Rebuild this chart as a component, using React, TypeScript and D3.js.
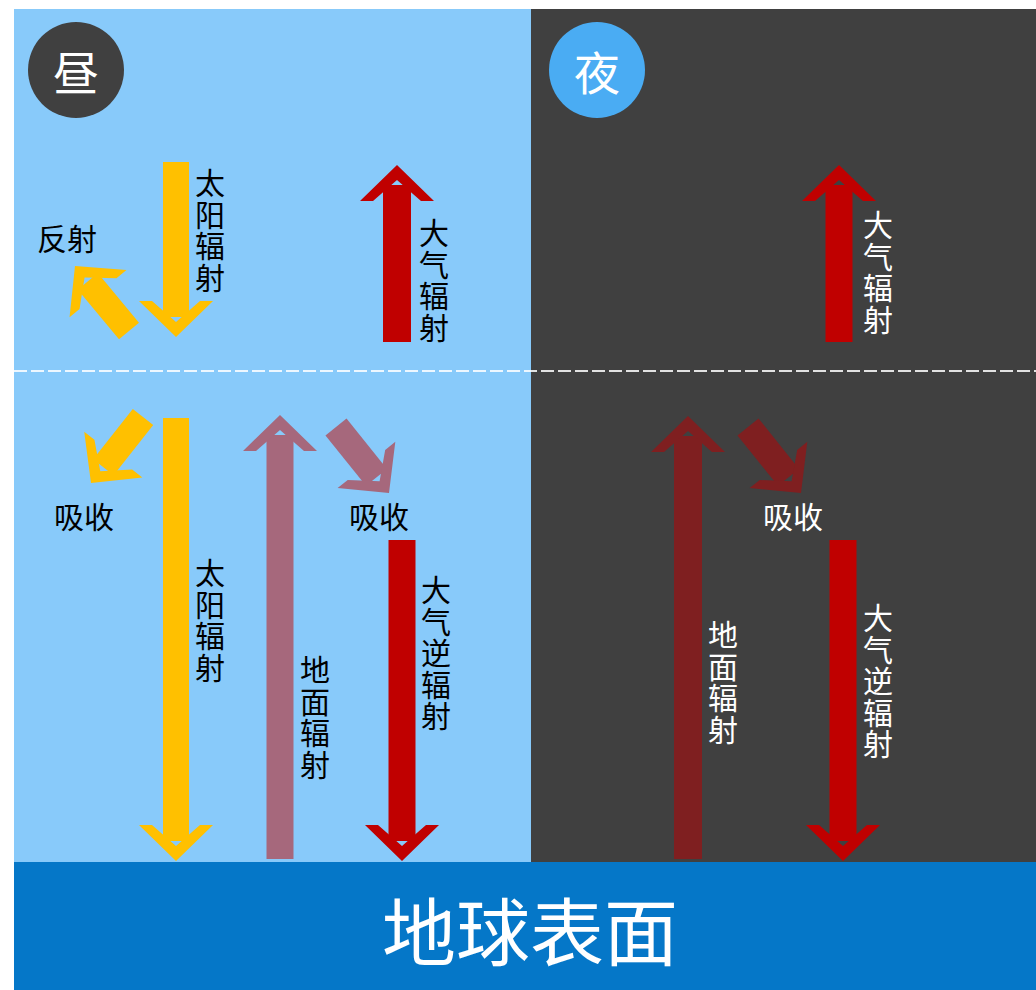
import * as d3 from 'd3';

const W = 1036;
const H = 990;

// colours
const SKY = '#88CAFA';
const NIGHT = '#404040';
const EARTH = '#0577C8';
const SUN = '#FFC000';
const ATMO = '#C00000';
const GROUND_DAY = '#A6687C';
const GROUND_NIGHT = '#7F1F20';

// panel words
const panelTitles = ['昼', '夜'];
const earthTitle = '地球表面';

type Pt = [number, number];
type ArrowSpec = { tail: Pt; tip: Pt; color: string; w?: number };

// arrows: tail -> tip
const dayArrows: ArrowSpec[] = [
  { tail: [176, 162], tip: [176, 337], color: SUN, w: 26 },
  { tail: [129, 331], tip: [75, 266], color: SUN, w: 26 },
  { tail: [143, 417], tip: [91, 483], color: SUN, w: 26 },
  { tail: [176, 418], tip: [176, 861], color: SUN, w: 26 },
  { tail: [397, 342], tip: [397, 165], color: ATMO, w: 28 },
  { tail: [280, 859], tip: [280, 415], color: GROUND_DAY, w: 27 },
  { tail: [336, 427], tip: [389, 493], color: GROUND_DAY, w: 27 },
  { tail: [402, 540], tip: [402, 861], color: ATMO, w: 27 },
];

const nightArrows: ArrowSpec[] = [
  { tail: [839, 342], tip: [839, 165], color: ATMO, w: 27 },
  { tail: [688, 859], tip: [688, 416], color: GROUND_NIGHT, w: 28 },
  { tail: [748, 427], tip: [801, 493], color: GROUND_NIGHT, w: 27 },
  { tail: [843, 540], tip: [843, 861], color: ATMO, w: 27 },
];

type Label = { text: string; x: number; y: number; vertical: boolean; color: string };

const labels: Label[] = [
  { text: '太阳辐射', x: 210, y: 181, vertical: true, color: '#000' },
  { text: '反射', x: 67, y: 237, vertical: false, color: '#000' },
  { text: '大气辐射', x: 434, y: 231, vertical: true, color: '#000' },
  { text: '吸收', x: 84, y: 515, vertical: false, color: '#000' },
  { text: '吸收', x: 379, y: 515, vertical: false, color: '#000' },
  { text: '太阳辐射', x: 210, y: 571, vertical: true, color: '#000' },
  { text: '地面辐射', x: 315, y: 668, vertical: true, color: '#000' },
  { text: '大气逆辐射', x: 436, y: 588, vertical: true, color: '#000' },
  { text: '大气辐射', x: 878, y: 223, vertical: true, color: '#fff' },
  { text: '吸收', x: 793, y: 515, vertical: false, color: '#fff' },
  { text: '地面辐射', x: 723, y: 633, vertical: true, color: '#fff' },
  { text: '大气逆辐射', x: 878, y: 616, vertical: true, color: '#fff' },
];

const FONT = '"Noto Sans CJK SC", "Noto Sans", sans-serif';
const line = d3.line<Pt>();

// block arrow with chevron style head
const arrowShapes = (a: ArrowSpec) => {
  const w = a.w ?? 27;
  const hw = 37;
  const hl = 36;
  const t = 13;
  const notch = 15;
  const shaftEnd = 20;
  const dx = a.tip[0] - a.tail[0];
  const dy = a.tip[1] - a.tail[1];
  const len = Math.hypot(dx, dy);
  const u: Pt = [dx / len, dy / len];
  const n: Pt = [-u[1], u[0]];
  const at = (along: number, side: number): Pt => [
    a.tip[0] - u[0] * along + n[0] * side,
    a.tip[1] - u[1] * along + n[1] * side,
  ];
  const shaft: Pt[] = [
    at(len, w / 2),
    at(shaftEnd, w / 2),
    at(shaftEnd, -w / 2),
    at(len, -w / 2),
  ];
  const head: Pt[] = [
    at(0, 0),
    at(hl, hw),
    at(hl, hw - t),
    at(notch, 0),
    at(hl, -(hw - t)),
    at(hl, -hw),
  ];
  return { shaft: line(shaft) + 'Z', head: line(head) + 'Z' };
};

const Arrow = ({ spec }: { spec: ArrowSpec }) => {
  const s = arrowShapes(spec);
  return (
    <g>
      <path d={s.shaft} fill={spec.color} />
      <path d={s.head} fill={spec.color} />
    </g>
  );
};

// vertical labels are drawn one character per text element
const TextLabel = ({ l }: { l: Label }) => {
  const chars = l.vertical ? l.text.split('') : [l.text];
  return (
    <g>
      {chars.map((c, i) => (
        <text
          key={i}
          x={l.x}
          y={l.y + i * 31.5}
          fill={l.color}
          fontSize={30}
          fontFamily={FONT}
          textAnchor='middle'
          dominantBaseline='central'
        >
          {c}
        </text>
      ))}
    </g>
  );
};

const App = () => {
  const x = d3.scaleLinear().domain([0, 1]).range([14, W]);
  const mid = 531;
  return (
    <svg
      width={W}
      height={H}
      style={{ position: 'absolute', left: 0, top: 0, background: '#fff' }}
    >
      <rect x={x(0)} y={9} width={mid - x(0)} height={853} fill={SKY} />
      <rect x={mid} y={9} width={W - mid} height={853} fill={NIGHT} />
      <rect x={x(0)} y={862} width={W - x(0)} height={H - 862} fill={EARTH} />

      <line
        x1={x(0)}
        x2={W}
        y1={371}
        y2={371}
        stroke='#fff'
        strokeOpacity={0.85}
        strokeWidth={2}
        strokeDasharray='13 4'
      />

      <circle cx={76} cy={70} r={48} fill={NIGHT} />
      <text x={76} y={70} fill='#fff' fontSize={46} fontFamily={FONT} textAnchor='middle' dominantBaseline='central'>
        {panelTitles[0]}
      </text>
      <circle cx={597} cy={70} r={48} fill='#4AACF3' />
      <text x={597} y={70} fill='#fff' fontSize={46} fontFamily={FONT} textAnchor='middle' dominantBaseline='central'>
        {panelTitles[1]}
      </text>

      {dayArrows.map((a, i) => (
        <Arrow key={'d' + i} spec={a} />
      ))}
      {nightArrows.map((a, i) => (
        <Arrow key={'n' + i} spec={a} />
      ))}

      {labels.map((l, i) => (
        <TextLabel key={i} l={l} />
      ))}

      <text
        x={530}
        y={927}
        fill='#fff'
        fontSize={74}
        fontFamily={FONT}
        textAnchor='middle'
        dominantBaseline='central'
      >
        {earthTitle}
      </text>
    </svg>
  );
};

export default App;
